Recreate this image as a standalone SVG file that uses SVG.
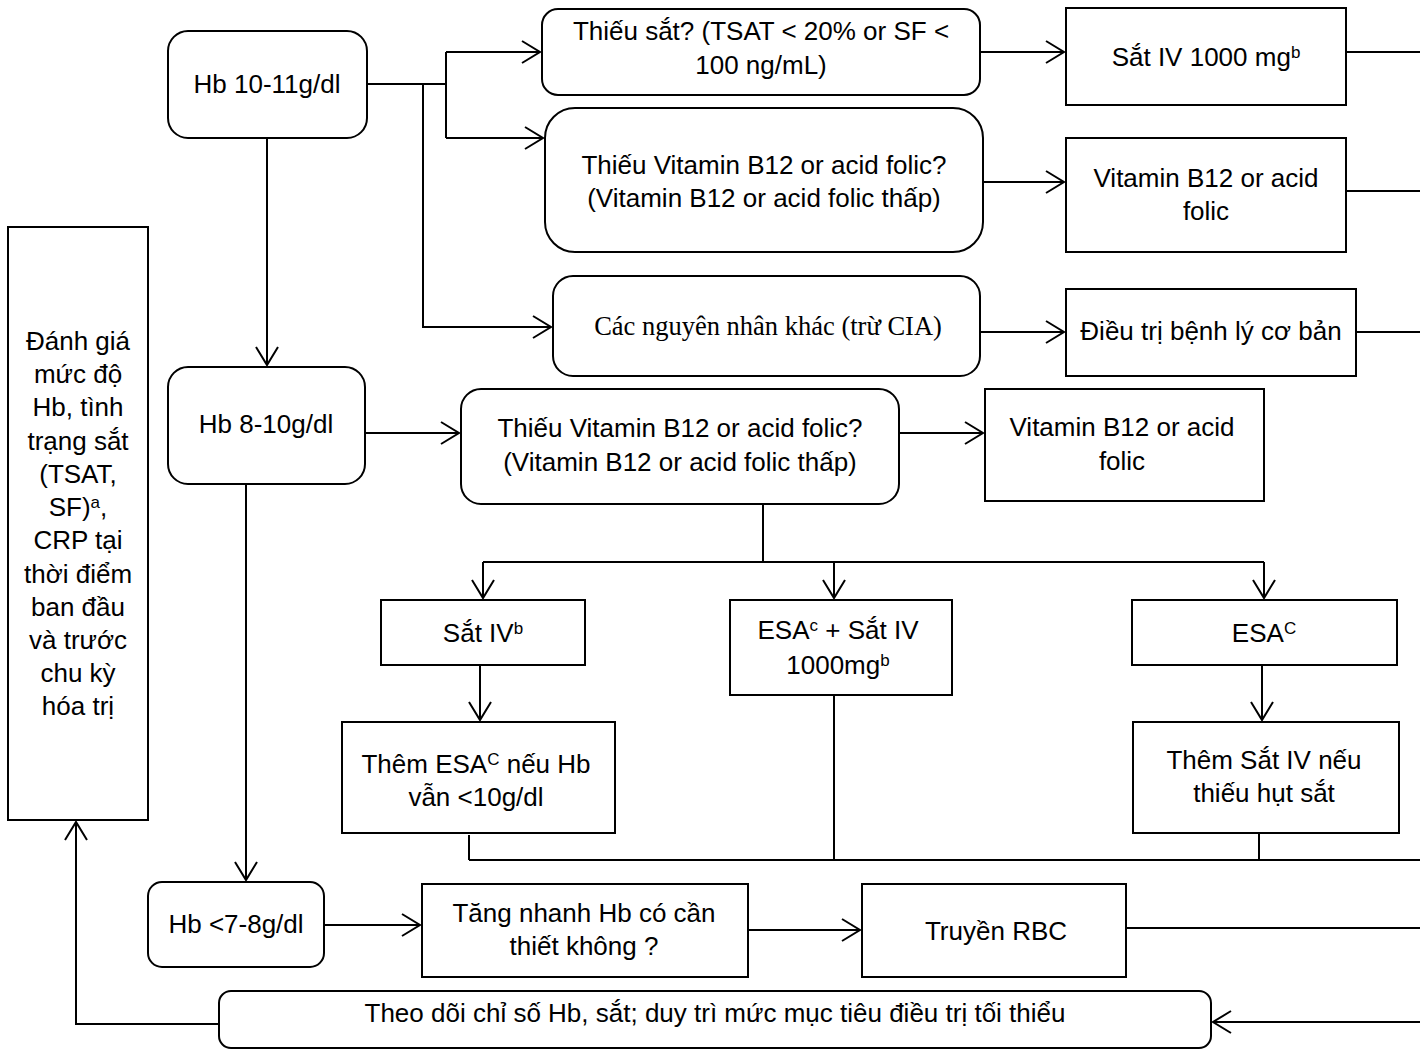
<svg xmlns="http://www.w3.org/2000/svg" width="1420" height="1050" viewBox="0 0 1420 1050">
<defs>
<marker id="arr" markerUnits="userSpaceOnUse" markerWidth="24" markerHeight="24" refX="20" refY="11" orient="auto" overflow="visible">
<path d="M2,0 L20,11 L2,22" fill="none" stroke="#000" stroke-width="2"/>
</marker>
<style>
.box{fill:#fff;stroke:#000;stroke-width:2}
.t{font-family:"Liberation Sans",Arial,sans-serif;font-size:26px;fill:#000;text-anchor:middle}
.tr{font-family:"Liberation Serif","Times New Roman",serif;font-size:26.5px;fill:#000;text-anchor:middle}
.sup{font-size:17px}
.ln{fill:none;stroke:#000;stroke-width:2}
</style>
</defs>
<rect width="1420" height="1050" fill="#fff"/>
<g id="connectors">
<polyline class="ln" points="367,84 446,84"/>
<polyline class="ln" points="446,52 446,138"/>
<polyline class="ln" points="446,52 540,52" marker-end="url(#arr)"/>
<polyline class="ln" points="446,138 543,138" marker-end="url(#arr)"/>
<polyline class="ln" points="423,84 423,327 551,327" marker-end="url(#arr)"/>
<polyline class="ln" points="980,52 1064,52" marker-end="url(#arr)"/>
<polyline class="ln" points="983,182 1064,182" marker-end="url(#arr)"/>
<polyline class="ln" points="980,332 1064,332" marker-end="url(#arr)"/>
<polyline class="ln" points="1346,52 1420,52"/>
<polyline class="ln" points="1346,191 1420,191"/>
<polyline class="ln" points="1356,332 1420,332"/>
<polyline class="ln" points="267,138 267,365" marker-end="url(#arr)"/>
<polyline class="ln" points="365,433 459,433" marker-end="url(#arr)"/>
<polyline class="ln" points="899,433 983,433" marker-end="url(#arr)"/>
<polyline class="ln" points="763,504 763,562"/>
<polyline class="ln" points="483,562 1264,562"/>
<polyline class="ln" points="483,562 483,598" marker-end="url(#arr)"/>
<polyline class="ln" points="834,562 834,598" marker-end="url(#arr)"/>
<polyline class="ln" points="1264,562 1264,598" marker-end="url(#arr)"/>
<polyline class="ln" points="480,665 480,720" marker-end="url(#arr)"/>
<polyline class="ln" points="1262,665 1262,720" marker-end="url(#arr)"/>
<polyline class="ln" points="469,835 469,860"/>
<polyline class="ln" points="834,695 834,860"/>
<polyline class="ln" points="1259,833 1259,860"/>
<polyline class="ln" points="469,860 1420,860"/>
<polyline class="ln" points="246,484 246,880" marker-end="url(#arr)"/>
<polyline class="ln" points="324,925 420,925" marker-end="url(#arr)"/>
<polyline class="ln" points="748,930 860,930" marker-end="url(#arr)"/>
<polyline class="ln" points="1126,928 1420,928"/>
<polyline class="ln" points="1420,1022 1213,1022" marker-end="url(#arr)"/>
<polyline class="ln" points="219,1024 76,1024 76,822" marker-end="url(#arr)"/>
</g>
<g id="hb10-11"><rect class="box" x="168" y="31" width="199" height="107" rx="20"/><text class="t" x="267" y="93">Hb 10-11g/dl</text></g>
<g id="thieu-sat"><rect class="box" x="542" y="9" width="438" height="86" rx="16"/><text class="t" x="761" y="40">Thiếu sắt? (TSAT &lt; 20% or SF &lt;</text><text class="t" x="761" y="74">100 ng/mL)</text></g>
<g id="thieu-b12-top"><rect class="box" x="545" y="108" width="438" height="144" rx="30"/><text class="t" x="764" y="174">Thiếu Vitamin B12 or acid folic?</text><text class="t" x="764" y="207">(Vitamin B12 or acid folic thấp)</text></g>
<g id="nguyen-nhan-khac"><rect class="box" x="553" y="276" width="427" height="100" rx="20"/><text class="tr" x="768" y="335">Các nguyên nhân khác (trừ CIA)</text></g>
<g id="sat-iv-1000"><rect class="box" x="1066" y="8" width="280" height="97"/><text class="t" x="1206" y="66">Sắt IV 1000 mg<tspan class="sup" dy="-8">b</tspan></text></g>
<g id="b12-top"><rect class="box" x="1066" y="138" width="280" height="114"/><text class="t" x="1206" y="187">Vitamin B12 or acid</text><text class="t" x="1206" y="220">folic</text></g>
<g id="dieu-tri"><rect class="box" x="1066" y="289" width="290" height="87"/><text class="t" x="1211" y="340">Điều trị bệnh lý cơ bản</text></g>
<g id="hb8-10"><rect class="box" x="168" y="367" width="197" height="117" rx="20"/><text class="t" x="266" y="433">Hb 8-10g/dl</text></g>
<g id="thieu-b12-mid"><rect class="box" x="461" y="389" width="438" height="115" rx="20"/><text class="t" x="680" y="437">Thiếu Vitamin B12 or acid folic?</text><text class="t" x="680" y="471">(Vitamin B12 or acid folic thấp)</text></g>
<g id="b12-mid"><rect class="box" x="985" y="389" width="279" height="112"/><text class="t" x="1122" y="436">Vitamin B12 or acid</text><text class="t" x="1122" y="470">folic</text></g>
<g id="danh-gia"><rect class="box" x="8" y="227" width="140" height="593"/>
<text class="t" x="78"><tspan x="78" y="350">Đánh giá</tspan><tspan x="78" y="383">mức độ</tspan><tspan x="78" y="416">Hb, tình</tspan><tspan x="78" y="450">trạng sắt</tspan><tspan x="78" y="483">(TSAT,</tspan><tspan x="78" y="516">SF)<tspan class="sup" dy="-8">a</tspan><tspan dy="8">,</tspan></tspan><tspan x="78" y="549">CRP tại</tspan><tspan x="78" y="583">thời điểm</tspan><tspan x="78" y="616">ban đầu</tspan><tspan x="78" y="649">và trước</tspan><tspan x="78" y="682">chu kỳ</tspan><tspan x="78" y="715">hóa trị</tspan></text></g>
<g id="sat-iv"><rect class="box" x="381" y="600" width="204" height="65"/><text class="t" x="483" y="642">Sắt IV<tspan class="sup" dy="-8">b</tspan></text></g>
<g id="esa-sat"><rect class="box" x="730" y="600" width="222" height="95"/><text class="t" x="838" y="639">ESA<tspan class="sup" dy="-8">c</tspan><tspan dy="8"> + Sắt IV</tspan></text><text class="t" x="838" y="674">1000mg<tspan class="sup" dy="-8">b</tspan></text></g>
<g id="esa"><rect class="box" x="1132" y="600" width="265" height="65"/><text class="t" x="1264" y="642">ESA<tspan class="sup" dy="-8">C</tspan></text></g>
<g id="them-esa"><rect class="box" x="342" y="722" width="273" height="111"/><text class="t" x="476" y="773">Thêm ESA<tspan class="sup" dy="-8">C</tspan><tspan dy="8"> nếu Hb</tspan></text><text class="t" x="476" y="806">vẫn &lt;10g/dl</text></g>
<g id="them-sat"><rect class="box" x="1133" y="722" width="266" height="111"/><text class="t" x="1264" y="769">Thêm Sắt IV nếu</text><text class="t" x="1264" y="802">thiếu hụt sắt</text></g>
<g id="hb7-8"><rect class="box" x="148" y="882" width="176" height="85" rx="14"/><text class="t" x="236" y="933">Hb &lt;7-8g/dl</text></g>
<g id="tang-nhanh"><rect class="box" x="422" y="884" width="326" height="93"/><text class="t" x="584" y="922">Tăng nhanh Hb có cần</text><text class="t" x="584" y="955">thiết không ?</text></g>
<g id="truyen-rbc"><rect class="box" x="862" y="884" width="264" height="93"/><text class="t" x="996" y="940">Truyền RBC</text></g>
<g id="theo-doi"><rect class="box" x="219" y="991" width="992" height="57" rx="12"/><text class="t" x="715" y="1022">Theo dõi chỉ số Hb, sắt; duy trì mức mục tiêu điều trị tối thiểu</text></g>
</svg>
